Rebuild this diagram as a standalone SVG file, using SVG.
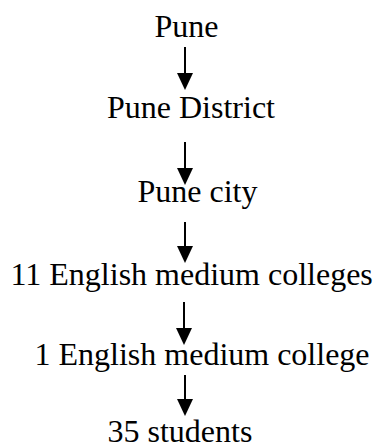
<svg xmlns="http://www.w3.org/2000/svg" width="375" height="448" viewBox="0 0 375 448">
<style>
.t{font-family:'Liberation Serif','Times New Roman',serif;font-size:32px;fill:#000}
.shaft{stroke:#000;stroke-width:2;fill:none}
.head{fill:#000}
</style>
<rect width="375" height="448" fill="#fff"/>
<g id="n1"><text class="t" x="154.5" y="37">Pune</text></g>
<g id="n2"><text class="t" x="107" y="118">Pune District</text></g>
<g id="n3"><text class="t" x="137.5" y="202">Pune city</text></g>
<g id="n4"><text class="t" x="10.5" y="285">11 English medium colleges</text></g>
<g id="n5"><text class="t" x="34.5" y="365">1 English medium college</text></g>
<g id="n6"><text class="t" x="107.5" y="442">35 students</text></g>
<g id="connectors">
<path class="shaft" d="M185,47 V75"/><path class="head" d="M177,73 H193 L185,90 Z"/>
<path class="shaft" d="M185,142 V170"/><path class="head" d="M177,168 H193 L185,185 Z"/>
<path class="shaft" d="M185,222 V248"/><path class="head" d="M177,246 H193 L185,263 Z"/>
<path class="shaft" d="M184,302 V330"/><path class="head" d="M176,328 H192 L184,345 Z"/>
<path class="shaft" d="M185,375 V401"/><path class="head" d="M177,399 H193 L185,416 Z"/>
</g>
</svg>
